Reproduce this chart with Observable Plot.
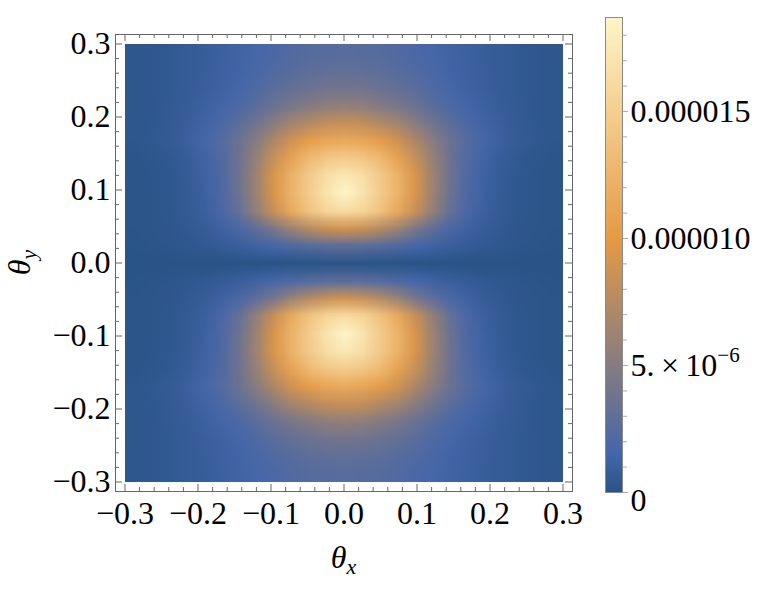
<!DOCTYPE html>
<html><head><meta charset="utf-8">
<script src="https://cdn.jsdelivr.net/npm/d3@7"></script>
<script src="https://cdn.jsdelivr.net/npm/@observablehq/plot@0.6"></script>
<style>
body{margin:0;background:#fff;}
#wrap{position:relative;width:760px;height:599px;display:flex;flex-direction:row;}
svg{font-family:'Liberation Serif','Times New Roman',Times,serif;}
</style></head><body><div id="wrap"></div>
<script>
// axis ticks (theta, radians)
const majorTicks = [-0.3, -0.2, -0.1, 0, 0.1, 0.2, 0.3];
const minorTicks = [-0.28,-0.26,-0.24,-0.22,-0.18,-0.16,-0.14,-0.12,-0.08,-0.06,-0.04,-0.02,
                    0.02,0.04,0.06,0.08,0.12,0.14,0.16,0.18,0.22,0.24,0.26,0.28];
const extentX = [-0.3, 0.3];
const extentY = [0.3, -0.3];
const pad = 0.013;

// intensity, units of 1e-6, 25x25 cells (cell width 0.024),
// rows from theta_y = +0.288 down to -0.288, columns theta_x = -0.288 ... +0.288
const intensity = [
 [0.27,0.36,0.48,0.64,0.83,1.05,1.3,1.6,1.9,2.2,2.4,2.5,2.6,2.5,2.4,2.2,1.9,1.6,1.3,1.05,0.83,0.64,0.48,0.36,0.27],
 [0.24,0.34,0.46,0.63,0.85,1.1,1.4,1.8,2.2,2.5,2.8,3.0,3.1,3.0,2.8,2.5,2.2,1.8,1.4,1.1,0.85,0.63,0.46,0.34,0.24],
 [0.23,0.33,0.47,0.66,0.91,1.2,1.6,2.1,2.7,3.2,3.6,3.9,4.0,3.9,3.6,3.2,2.7,2.1,1.6,1.2,0.91,0.66,0.47,0.33,0.23],
 [0.23,0.34,0.5,0.73,1.05,1.5,2.0,2.7,3.6,4.3,4.9,5.4,5.6,5.4,4.9,4.3,3.6,2.7,2.0,1.5,1.05,0.73,0.5,0.34,0.23],
 [0.24,0.37,0.57,0.87,1.3,1.9,2.8,3.9,5.2,6.5,7.4,8.2,8.4,8.2,7.4,6.5,5.2,3.9,2.8,1.9,1.3,0.87,0.57,0.37,0.24],
 [0.24,0.38,0.61,0.97,1.5,2.4,3.6,5.2,7.1,8.9,10.3,11.2,11.5,11.2,10.3,8.9,7.1,5.2,3.6,2.4,1.5,0.97,0.61,0.38,0.24],
 [0.14,0.25,0.43,0.74,1.3,2.2,3.7,5.9,8.5,11.0,13.1,14.3,14.8,14.3,13.1,11.0,8.5,5.9,3.7,2.2,1.3,0.74,0.43,0.25,0.14],
 [0.11,0.2,0.36,0.65,1.2,2.1,3.8,6.3,9.4,12.4,14.6,16.5,17.5,16.5,14.6,12.4,9.4,6.3,3.8,2.1,1.2,0.65,0.36,0.2,0.11],
 [0.1,0.18,0.33,0.6,1.1,2.0,3.6,6.2,9.4,12.5,14.8,17.0,18.7,17.0,14.8,12.5,9.4,6.2,3.6,2.0,1.1,0.6,0.33,0.18,0.1],
 [0.09,0.17,0.31,0.56,1.0,1.8,3.3,5.7,8.6,11.6,13.9,15.6,16.3,15.6,13.9,11.6,8.6,5.7,3.3,1.8,1.0,0.56,0.31,0.17,0.09],
 [0.09,0.15,0.26,0.44,0.73,1.2,1.9,3.0,4.4,6.2,7.6,8.6,9.0,8.6,7.6,6.2,4.4,3.0,1.9,1.2,0.73,0.44,0.26,0.15,0.09],
 [0.08,0.13,0.2,0.3,0.45,0.65,0.92,1.25,1.6,2.05,2.4,2.7,2.8,2.7,2.4,2.05,1.6,1.25,0.92,0.65,0.45,0.3,0.2,0.13,0.08],
 [0,0,0,0,0,0,0,0,0,0,0,0,0,0,0,0,0,0,0,0,0,0,0,0,0],
 [0.08,0.13,0.2,0.3,0.45,0.65,0.92,1.25,1.6,2.05,2.4,2.7,2.8,2.7,2.4,2.05,1.6,1.25,0.92,0.65,0.45,0.3,0.2,0.13,0.08],
 [0.09,0.15,0.26,0.44,0.73,1.2,1.9,3.0,4.4,6.2,7.6,8.6,9.0,8.6,7.6,6.2,4.4,3.0,1.9,1.2,0.73,0.44,0.26,0.15,0.09],
 [0.09,0.17,0.31,0.56,1.0,1.8,3.3,5.7,8.6,11.6,13.9,15.6,16.3,15.6,13.9,11.6,8.6,5.7,3.3,1.8,1.0,0.56,0.31,0.17,0.09],
 [0.1,0.18,0.33,0.6,1.1,2.0,3.6,6.2,9.4,12.5,14.8,17.0,18.7,17.0,14.8,12.5,9.4,6.2,3.6,2.0,1.1,0.6,0.33,0.18,0.1],
 [0.11,0.2,0.36,0.65,1.2,2.1,3.8,6.3,9.4,12.4,14.6,16.5,17.5,16.5,14.6,12.4,9.4,6.3,3.8,2.1,1.2,0.65,0.36,0.2,0.11],
 [0.14,0.25,0.43,0.74,1.3,2.2,3.7,5.9,8.5,11.0,13.1,14.3,14.8,14.3,13.1,11.0,8.5,5.9,3.7,2.2,1.3,0.74,0.43,0.25,0.14],
 [0.24,0.38,0.61,0.97,1.5,2.4,3.6,5.2,7.1,8.9,10.3,11.2,11.5,11.2,10.3,8.9,7.1,5.2,3.6,2.4,1.5,0.97,0.61,0.38,0.24],
 [0.24,0.37,0.57,0.87,1.3,1.9,2.8,3.9,5.2,6.5,7.4,8.2,8.4,8.2,7.4,6.5,5.2,3.9,2.8,1.9,1.3,0.87,0.57,0.37,0.24],
 [0.23,0.34,0.5,0.73,1.05,1.5,2.0,2.7,3.6,4.3,4.9,5.4,5.6,5.4,4.9,4.3,3.6,2.7,2.0,1.5,1.05,0.73,0.5,0.34,0.23],
 [0.23,0.33,0.47,0.66,0.91,1.2,1.6,2.1,2.7,3.2,3.6,3.9,4.0,3.9,3.6,3.2,2.7,2.1,1.6,1.2,0.91,0.66,0.47,0.33,0.23],
 [0.24,0.34,0.46,0.63,0.85,1.1,1.4,1.8,2.2,2.5,2.8,3.0,3.1,3.0,2.8,2.5,2.2,1.8,1.4,1.1,0.85,0.63,0.46,0.34,0.24],
 [0.27,0.36,0.48,0.64,0.83,1.05,1.3,1.6,1.9,2.2,2.4,2.5,2.6,2.5,2.4,2.2,1.9,1.6,1.3,1.05,0.83,0.64,0.48,0.36,0.27]
];

// colour bar (units of 1e-6)
const vmax = 18.7;
const cbMajor = [0, 5, 10, 15];
const cbLabels = ["0", "5.\u2009\u00d7\u200910", "0.000010", "0.000015"];
const cbMinor = [1,2,3,4,6,7,8,9,11,12,13,14,16,17,18];
const stopPos = [0, 0.08, 0.535, 1];
const stopCol = ["#2a5487", "#4466aa", "#e59a45", "#fff5c8"];

const ramp = d3.scaleLinear().domain(stopPos).range(stopCol).interpolate(d3.interpolateRgb).clamp(true);
const colorOpts = {type: "linear", domain: [0, vmax], interpolate: ramp};
const fmt = d => (d < 0 ? "\u2212" : "") + Math.abs(d).toFixed(1);
const frameCol = "#666";
const FS = 32;
const FONT = "'Liberation Serif','Times New Roman',Times,serif";

const W = 590, H = 599, mL = 115, mR = 18, mT = 34, mB = 108;
const fh = H - mT - mB, fw = W - mL - mR;

const main = Plot.plot({
  width: W, height: H, marginLeft: mL, marginRight: mR, marginTop: mT, marginBottom: mB,
  x: {domain: [extentX[0] - pad, extentX[1] + pad]},
  y: {domain: [extentY[1] - pad, extentY[0] + pad]},
  color: colorOpts,
  style: {fontFamily: FONT, color: "#000", background: "#fff", overflow: "visible"},
  marks: [
    Plot.raster(intensity.flat(), {width: 25, height: 25, fill: Plot.identity,
      x1: extentX[0], x2: extentX[1], y1: extentY[0], y2: extentY[1]}),
    Plot.frame({stroke: frameCol}),
    Plot.tickX(majorTicks, {insetTop: fh - 7, stroke: frameCol}),
    Plot.tickX(majorTicks, {insetBottom: fh - 7, stroke: frameCol}),
    Plot.tickX(minorTicks, {insetTop: fh - 4, stroke: frameCol}),
    Plot.tickX(minorTicks, {insetBottom: fh - 4, stroke: frameCol}),
    Plot.tickY(majorTicks, {insetRight: fw - 7, stroke: frameCol}),
    Plot.tickY(majorTicks, {insetLeft: fw - 7, stroke: frameCol}),
    Plot.tickY(minorTicks, {insetRight: fw - 4, stroke: frameCol}),
    Plot.tickY(minorTicks, {insetLeft: fw - 4, stroke: frameCol}),
    Plot.axisX(majorTicks, {anchor: "bottom", tickSize: 0, tickPadding: 10, tickFormat: fmt, label: null, fontSize: FS}),
    Plot.axisY(majorTicks, {anchor: "left", tickSize: 0, tickPadding: 5, tickFormat: fmt, label: null, fontSize: FS})
  ]
});

const cb = Plot.plot({
  width: 170, height: 599, marginLeft: 15, marginRight: 138, marginTop: 17, marginBottom: 107,
  x: {domain: [0, 1], axis: null},
  y: {domain: [0, vmax], axis: null},
  color: colorOpts,
  style: {fontFamily: FONT, color: "#000", background: "#fff", overflow: "visible"},
  marks: [
    Plot.raster({fill: (x, y) => y, x1: 0, x2: 1, y1: 0, y2: vmax}),
    Plot.frame({stroke: "#8a8a8a"}),
    Plot.axisY(cbMinor, {anchor: "right", tickSize: 4, tickFormat: () => "", stroke: "#aaa", label: null}),
    Plot.axisY(cbMajor, {anchor: "right", tickSize: 5, tickPadding: 3, stroke: "#aaa", label: null,
      tickFormat: d => cbLabels[cbMajor.indexOf(d)], fontSize: FS})
  ]
});

document.getElementById("wrap").append(main, cb);

// axis titles with subscripts
const sx = main.scale("x"), sy = main.scale("y");
const ms = d3.select(main);
const tx = ms.append("text").attr("x", sx.apply(0)).attr("y", 568)
  .attr("text-anchor", "middle").attr("font-size", FS).attr("font-style", "italic").text("\u03b8");
tx.append("tspan").attr("font-size", 22).attr("dy", 6).text("x");
const ty = ms.append("text").attr("transform", `translate(30,${sy.apply(0)}) rotate(-90)`)
  .attr("text-anchor", "middle").attr("font-size", FS).attr("font-style", "italic").text("\u03b8");
ty.append("tspan").attr("font-size", 22).attr("dy", 6).text("y");

// colour-bar label details
d3.select(cb).selectAll("text").each(function() {
  const t = d3.select(this);
  if (t.text() === "0") t.attr("dy", "0.25em");
  if (t.text() === cbLabels[1]) t.append("tspan").attr("font-size", 21).attr("dy", -14).text("\u22126");
});
</script></body></html>
